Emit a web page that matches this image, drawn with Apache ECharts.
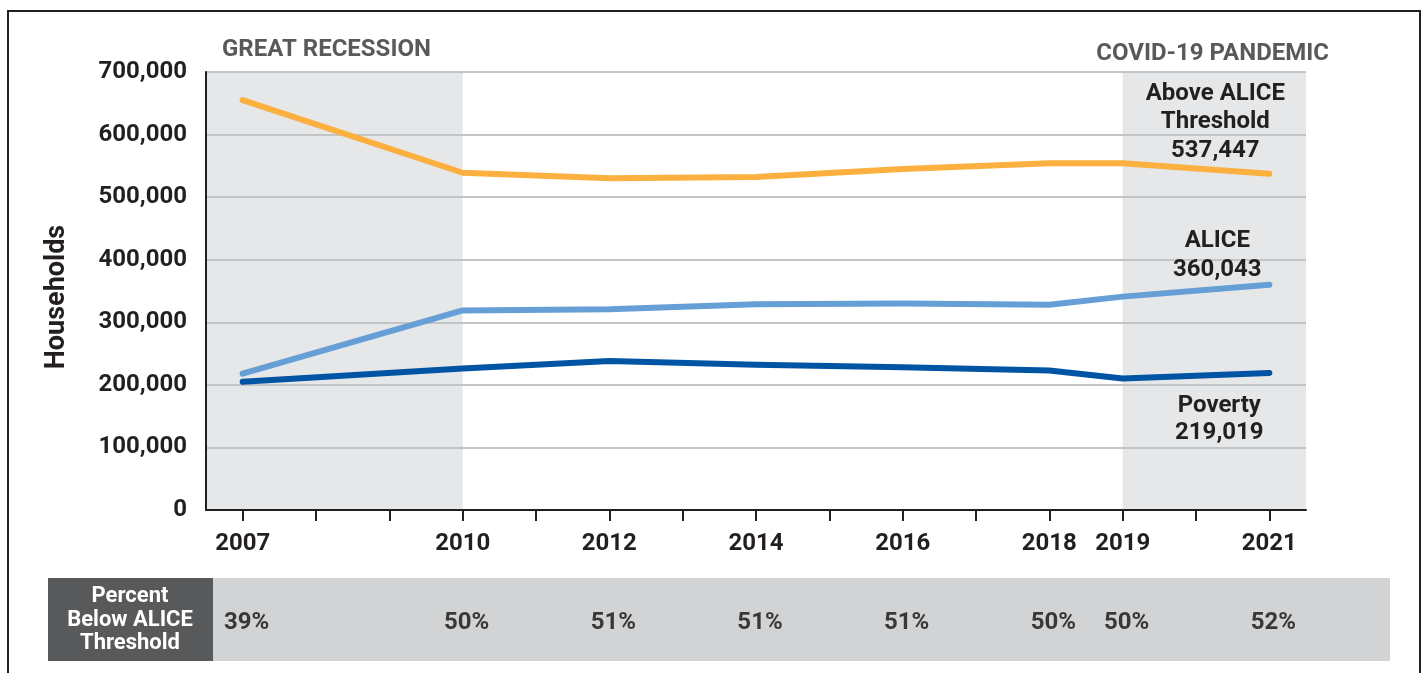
<!DOCTYPE html>
<html>
<head>
<meta charset="utf-8">
<script src="https://cdn.jsdelivr.net/npm/echarts@6/dist/echarts.min.js"></script>
<style>
  html, body { margin: 0; padding: 0; background: #ffffff; }
  #chart { width: 1427px; height: 673px; }
</style>
</head>
<body>
<div id="chart"></div>
<script>
// ---- Data ----
const years = [2007, 2010, 2012, 2014, 2016, 2018, 2019, 2021];
const aboveAlice = [655000, 539000, 530000, 532000, 545000, 554000, 554000, 537447];
const alice = [218000, 319000, 321000, 329000, 330000, 328000, 341000, 360043];
const poverty = [205000, 226000, 238000, 232000, 228000, 223000, 210000, 219019];
const percentBelow = ['39%', '50%', '51%', '51%', '51%', '50%', '50%', '52%'];
const tickYears = [2007, 2008, 2009, 2010, 2011, 2012, 2013, 2014, 2015, 2016, 2017, 2018, 2019, 2020, 2021];
const seriesNames = ['Above ALICE\nThreshold', 'ALICE', 'Poverty'];
const periods = [
  { name: 'GREAT RECESSION', from: 2006.5, to: 2010 },
  { name: 'COVID-19 PANDEMIC', from: 2019, to: 2021.5 }
];
const tableHeader = 'Percent\nBelow ALICE\nThreshold';

// ---- Styles ----
const FONT = 'Roboto';
const DARK = '#231f20';
const GRAYTXT = '#58595b';
const fmt = v => Number(v).toLocaleString('en-US');

function buildData(vals, labelCfg, name) {
  return years.map((y, i) => {
    const item = { value: [y, vals[i]] };
    if (i === years.length - 1) {
      item.label = Object.assign({
        show: true,
        color: DARK,
        fontFamily: FONT,
        fontWeight: 'bold',
        fontSize: 24,
        align: 'center',
        formatter: p => name + '\n' + fmt(p.value[1])
      }, labelCfg);
    }
    return item;
  });
}

function lineSeries(name, vals, color, labelCfg) {
  return {
    type: 'line',
    name: name,
    xAxisIndex: 0, yAxisIndex: 0,
    z: 5,
    symbol: 'circle',
    symbolSize: 5,
    showSymbol: true,
    itemStyle: { color: color },
    lineStyle: { color: color, width: 6, cap: 'round', join: 'round' },
    label: { show: false },
    emphasis: { disabled: true },
    data: buildData(vals, labelCfg, name)
  };
}

const chart = echarts.init(document.getElementById('chart'), null, { renderer: 'canvas' });

const option = {
  animation: false,
  backgroundColor: '#ffffff',
  grid: [
    { left: 206, right: 121, top: 72, bottom: 163 },
    { left: 206, right: 121, top: 578, height: 83 }
  ],
  xAxis: [
    {
      type: 'value', gridIndex: 0, min: 2006.5, max: 2021.5, z: 3,
      axisLine: { show: true, onZero: false, lineStyle: { color: DARK, width: 2 } },
      axisTick: { show: true, customValues: tickYears, length: 11, lineStyle: { color: DARK, width: 2 } },
      axisLabel: {
        customValues: years, formatter: v => String(v), margin: 22,
        color: DARK, fontFamily: FONT, fontWeight: 'bold', fontSize: 24
      },
      splitLine: { show: false }
    },
    {
      type: 'value', gridIndex: 1, min: 2006.5, max: 2021.5, show: false
    }
  ],
  yAxis: [
    {
      type: 'value', gridIndex: 0, min: 0, max: 700000, interval: 100000, z: 3,
      name: 'Households', nameLocation: 'middle', nameGap: 135, nameRotate: 90,
      nameTextStyle: { color: DARK, fontFamily: FONT, fontWeight: 'bold', fontSize: 27, padding: [0, 12, 0, 0] },
      axisLine: { show: true, lineStyle: { color: DARK, width: 2 } },
      axisTick: { show: false },
      axisLabel: {
        formatter: v => fmt(v), margin: 19,
        color: DARK, fontFamily: FONT, fontWeight: 'bold', fontSize: 24
      },
      splitLine: { show: true, lineStyle: { color: '#c3c4c6', width: 2 } }
    },
    { type: 'value', gridIndex: 1, min: 0, max: 1, show: false }
  ],
  series: [
    {
      type: 'line', xAxisIndex: 0, yAxisIndex: 0, z: 1,
      data: [], symbol: 'none', silent: true,
      markArea: {
        silent: true,
        itemStyle: { color: '#e6e7e8' },
        label: { show: false },
        data: periods.map(p => [{ xAxis: p.from }, { xAxis: p.to }])
      }
    },
    lineSeries(seriesNames[0], aboveAlice, '#fbb040',
      { position: 'top', distance: 6, offset: [-54, 0], lineHeight: 28.5 }),
    lineSeries(seriesNames[1], alice, '#659fd6',
      { position: 'top', distance: 1, offset: [-52, 4], lineHeight: 29.5 }),
    lineSeries(seriesNames[2], poverty, '#0054a4',
      { position: 'bottom', distance: 17, offset: [-50, 0], lineHeight: 27 }),
    {
      type: 'scatter', xAxisIndex: 1, yAxisIndex: 1, z: 5,
      symbolSize: 1, itemStyle: { color: 'rgba(0,0,0,0)' },
      silent: true,
      label: {
        show: true, position: 'inside', offset: [4, 3],
        color: '#111111', fontFamily: FONT, fontWeight: 'bold', fontSize: 24,
        formatter: p => p.value[2]
      },
      data: years.map((y, i) => [y, 0.5, percentBelow[i]])
    }
  ],
  graphic: [
    {
      type: 'rect', z: -10, silent: true,
      shape: { x: 8, y: 11, width: 1412, height: 720 },
      style: { fill: 'none', stroke: DARK, lineWidth: 2 }
    },
    {
      type: 'rect', z: 0, silent: true,
      shape: { x: 213, y: 578, width: 1177, height: 83 },
      style: { fill: '#d1d3d4' }
    },
    {
      type: 'rect', z: 0, silent: true,
      shape: { x: 48, y: 578, width: 165, height: 83 },
      style: { fill: '#58595b' }
    },
    {
      type: 'text', z: 1, silent: true, x: 130, y: 620,
      style: {
        text: tableHeader, fill: '#ffffff', font: 'bold 22px Roboto',
        textAlign: 'center', textVerticalAlign: 'middle', lineHeight: 23.5
      }
    },
    {
      type: 'text', z: 1, silent: true, x: 222, y: 50,
      style: {
        text: periods[0].name, fill: GRAYTXT, font: 'bold 24px Roboto',
        textAlign: 'left', textVerticalAlign: 'middle'
      }
    },
    {
      type: 'text', z: 1, silent: true, x: 1329, y: 54,
      style: {
        text: periods[1].name, fill: GRAYTXT, font: 'bold 24px Roboto',
        textAlign: 'right', textVerticalAlign: 'middle'
      }
    }
  ]
};

chart.setOption(option);
</script>
</body>
</html>
